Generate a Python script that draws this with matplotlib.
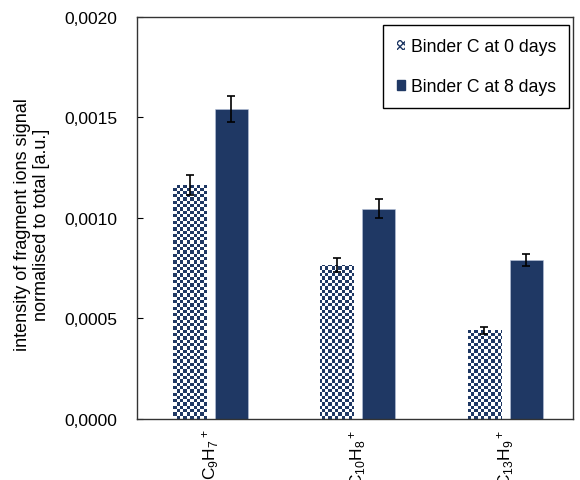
import numpy as np
import matplotlib
matplotlib.use("Agg")
import matplotlib.pyplot as plt
from matplotlib.patches import Patch
from matplotlib.ticker import FuncFormatter

plt.rcParams['font.family'] = ['Liberation Sans', 'DejaVu Sans']
plt.rcParams['mathtext.fontset'] = 'custom'
plt.rcParams['mathtext.rm'] = 'Liberation Sans'
plt.rcParams['mathtext.it'] = 'Liberation Sans'

# data
categories = [r'C$_9$H$_7$$^+$', r'C$_{10}$H$_8$$^+$', r'C$_{13}$H$_9$$^+$']
day0 = [0.001165, 0.000766, 0.000440]
day0_err = [0.000050, 0.000035, 0.000017]
day8 = [0.001540, 0.001045, 0.000791]
day8_err = [0.000065, 0.000048, 0.000030]
series_labels = ['Binder C at 0 days', 'Binder C at 8 days']
yticks = [0.0, 0.0005, 0.0010, 0.0015, 0.0020]

navy = '#1f3864'

fig = plt.figure(figsize=(5.80, 4.81), dpi=100)
ax = fig.add_axes([0.236, 0.127, 0.752, 0.836])

x = np.arange(len(categories))
width = 0.225
off = 0.142

ax.set_xlim(-0.5, 2.46)
ax.set_ylim(0, 0.002)

bars0 = ax.bar(x - off, day0, width, color='white', edgecolor='none', zorder=2)
bars8 = ax.bar(x + off, day8, width, color=navy, edgecolor='#b8c4dc', linewidth=0.4, zorder=2)

# checkerboard fill for the day-0 bars, clipped to each bar
ncols, nrows = 132, 122
checker = (np.add.outer(np.arange(nrows), np.arange(ncols)) % 2).astype(float)
cmap = matplotlib.colors.ListedColormap(['white', navy])
for b in bars0:
    im = ax.imshow(checker, cmap=cmap, extent=(-0.5, 2.46, 0, 0.002),
                   aspect='auto', interpolation='nearest', zorder=2.5)
    im.set_clip_path(b)

ax.errorbar(x - off, day0, yerr=day0_err, fmt='none', ecolor='black',
            elinewidth=1.2, capsize=3, capthick=1.2, zorder=4)
ax.errorbar(x + off, day8, yerr=day8_err, fmt='none', ecolor='black',
            elinewidth=1.2, capsize=3, capthick=1.2, zorder=4)

ax.set_xticks(x)
ax.set_xticklabels(categories, rotation=90, fontsize=12.5)
ax.tick_params(axis='x', length=0, pad=7)

ax.set_yticks(yticks)
ax.yaxis.set_major_formatter(FuncFormatter(lambda v, p: f"{v:.4f}".replace('.', ',')))
ax.tick_params(axis='y', direction='in', length=4, labelsize=12.5, pad=14)

ax.set_ylabel('intensity of fragment ions signal\nnormalised to total [a.u.]',
              fontsize=13, labelpad=10, linespacing=1.1)
ax.yaxis.set_label_coords(-0.2, 0.485)

for s in ax.spines.values():
    s.set_linewidth(1.0)
    s.set_color('#333333')

handles = [Patch(facecolor='white', edgecolor=navy, hatch='xxxxx', linewidth=0),
           Patch(facecolor=navy, edgecolor=navy)]
leg = ax.legend(handles, series_labels, loc='upper right',
                bbox_to_anchor=(0.991, 0.98), borderaxespad=0,
                fontsize=12.7, frameon=True, fancybox=False, framealpha=1,
                edgecolor='black', handlelength=0.5, handleheight=0.5,
                handletextpad=0.3, labelspacing=1.3, borderpad=0.75)
leg.get_frame().set_linewidth(1.0)

fig.savefig('out.png', dpi=100)
